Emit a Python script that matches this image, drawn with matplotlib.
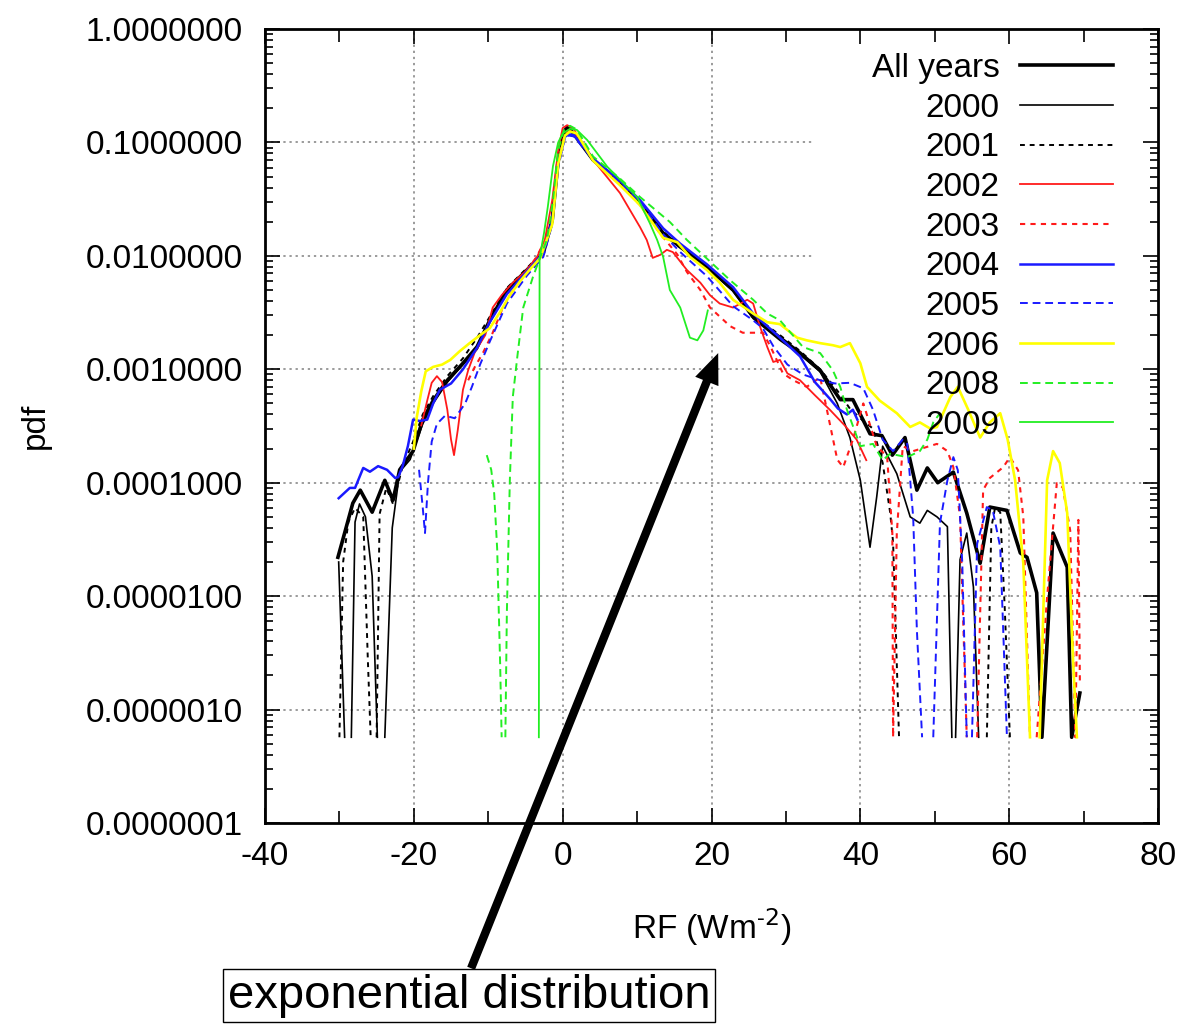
import numpy as np
import matplotlib
matplotlib.use("Agg")
import matplotlib.pyplot as plt
from matplotlib.ticker import LogLocator, MultipleLocator, NullFormatter, FormatStrFormatter

plt.rcParams['font.family'] = ['Liberation Sans', 'DejaVu Sans']
plt.rcParams['axes.unicode_minus'] = False

nan = np.nan

# pdf of RF (W m-2)
all_x = [-30.2, -29.3, -28.2, -27.2, -25.6, -23.9, -22.8, -21.9, -20.1, -18.8, -17.4, -15.5, -13.4, -11.5, -9.8,
         -7.5, -4.8, -2.6, -1.4, -0.6, 0.3, 0.7, 1.4, 4.1, 7.7, 10.4, 13.5, 15.8, 19.4, 22.9, 25.6, 29.2, 31.9,
         34.6, 37.3, 39.0, 41.3, 42.9, 44.3, 46.0, 47.6, 49.0, 50.4, 52.5, 54.3, 56.1, 57.4, 59.7, 61.5, 62.4,
         63.7, 64.4, 65.9, 67.8, 68.4, 69.5]
all_y = [2.2e-5, 3.6e-5, 6.6e-5, 8.6e-5, 5.5e-5, 1.05e-4, 7.0e-5, 1.3e-4, 1.9e-4, 3.6e-4, 5.3e-4, 8.0e-4, 1.13e-3,
         1.58e-3, 2.7e-3, 5.0e-3, 7.5e-3, 1.06e-2, 2.07e-2, 7.0e-2, 0.128, 0.137, 0.121, 0.070, 0.0438, 0.0292,
         0.0159, 0.0120, 0.0080, 0.0050, 0.0029, 0.0019, 0.00139, 9.8e-4, 5.4e-4, 5.4e-4, 2.7e-4, 2.6e-4, 1.75e-4,
         2.5e-4, 8.6e-5, 1.35e-4, 1.0e-4, 1.24e-4, 5.4e-5, 1.95e-5, 6.1e-5, 5.7e-5, 2.4e-5, 2.2e-5, 1.07e-5,
         5.7e-7, 3.6e-5, 1.8e-5, 5.7e-7, 1.4e-6]

x00 = [-30.1, -29.3, nan, -28.4, -27.9, -27.3, -26.5, -25.6, -24.9, nan, -23.9, -22.9, -21.9, -20.5, -18.8, -17.4,
       -15.5, -13.4, -11.5, -9.8, -7.5, -4.8, -2.6, -1.4, -0.6, 0.3, 0.8, 1.5, 4.1, 7.7, 10.4, 13.5, 15.8, 19.4,
       22.9, 25.6, 29.2, 31.9, 34.6, 36.9, 38.6, 40.0, 41.3, 42.2, 43.0, 44.9, 46.7, 48.0, 49.0, 50.3, 51.7, 52.3,
       nan, 52.8, 53.4, 54.3, 55.2, 55.9]
y00 = [2.0e-5, 5.7e-7, nan, 5.7e-7, 4.5e-5, 6.5e-5, 5.0e-5, 1.5e-5, 5.7e-7, nan, 5.7e-7, 4.0e-5, 1.25e-4, 1.6e-4,
       3.3e-4, 5.0e-4, 7.7e-4, 1.1e-3, 1.5e-3, 2.6e-3, 4.8e-3, 7.3e-3, 0.0104, 0.021, 0.072, 0.130, 0.133, 0.120,
       0.069, 0.043, 0.029, 0.0157, 0.0118, 0.0079, 0.0049, 0.0028, 0.0018, 0.00135, 9.5e-4, 5.0e-4, 2.5e-4,
       1.05e-4, 2.7e-5, 7.5e-5, 2.1e-4, 1.2e-4, 5.0e-5, 4.4e-5, 5.7e-5, 5.0e-5, 4.1e-5, 5.7e-7, nan, 5.7e-7,
       2.1e-5, 3.6e-5, 1.2e-5, 5.7e-7]

x01 = [-30.0, -29.5, -28.8, -27.9, -26.8, -26.2, -25.8, nan, -25.0, -24.6, -23.7, -22.8, -21.5, -20.1, -18.8,
       -17.4, -15.5, -13.4, -11.5, -9.8, -7.5, -4.8, -2.6, -1.4, -0.6, 0.3, 0.7, 1.5, 4.1, 7.7, 10.4, 13.5, 15.8,
       19.4, 22.9, 25.6, 29.2, 31.9, 34.6, 36.9, 38.6, 40.4, 41.7, 43.0, 44.0, 44.4, 45.2, nan, 57.0, 57.6, 58.1,
       58.8, 59.4, 60.1]
y01 = [5.7e-7, 2.0e-5, 4.5e-5, 6.0e-5, 5.0e-5, 3.0e-6, 5.7e-7, nan, 5.7e-7, 5.3e-5, 9.0e-5, 6.5e-5, 1.4e-4, 2.3e-4,
       4.0e-4, 5.8e-4, 8.7e-4, 1.25e-3, 1.9e-3, 2.9e-3, 5.2e-3, 7.8e-3, 0.011, 0.022, 0.070, 0.127, 0.135, 0.120,
       0.071, 0.045, 0.030, 0.0163, 0.0124, 0.0082, 0.0051, 0.0030, 0.0020, 0.00145, 1.0e-3, 6.5e-4, 4.5e-4,
       3.5e-4, 3.0e-4, 1.5e-4, 5.5e-5, 3.0e-5, 5.7e-7, nan, 5.7e-7, 4.0e-5, 6.0e-5, 5.5e-5, 8.0e-6, 5.7e-7]

x02 = [-19.0, -18.2, -17.6, -16.9, -16.2, -15.5, -15.0, -14.6, -14.1, -13.4, -12.7, -11.8, -10.4, -9.4, -8.2, -6.7,
       -5.1, -3.5, -2.4, -1.4, -0.6, 0.0, 0.6, 1.4, 4.1, 7.7, 10.4, 11.3, 12.1, 13.1, 14.0, 14.8, 16.7, 18.5, 19.8,
       21.1, 22.9, 24.8, 25.6, 26.5, 27.5, 28.3, 29.2, 30.2, 31.9, 33.9, 35.9, 37.9, 39.5, 40.8]
y02 = [3.2e-4, 5.3e-4, 7.6e-4, 8.7e-4, 7.7e-4, 4.4e-4, 2.4e-4, 1.75e-4, 2.9e-4, 6.6e-4, 9.8e-4, 1.42e-3, 2.0e-3,
       3.5e-3, 4.5e-3, 5.8e-3, 7.2e-3, 9.6e-3, 0.0138, 0.031, 0.086, 0.134, 0.142, 0.134, 0.070, 0.0358, 0.0179,
       0.0138, 0.0096, 0.0102, 0.0113, 0.0108, 0.0075, 0.0058, 0.0045, 0.0038, 0.0035, 0.0041, 0.0038, 0.0024,
       0.00157, 0.00116, 0.00121, 0.00092, 0.0008, 0.00059, 0.00044, 0.00032, 0.00024, 0.000158]

x03 = [-12.7, -11.8, -10.7, -9.4, -8.2, -6.7, -5.1, -3.5, -2.4, -1.4, -0.6, 0.3, 0.8, 1.5, 4.1, 7.7, 10.4, 13.0,
       15.4, 16.7, 18.5, 19.8, 22.5, 24.2, 26.9, 27.9, 29.6, 31.0, 32.8, 34.6, 36.9, 37.7, 39.0, 40.4, 42.2, 43.6,
       44.3, 44.4, 44.9, 45.7, 47.1, 50.3, 51.7, 52.5, 53.4, 54.3, nan, 55.7, 56.5, 57.4, 59.2, 60.1, 61.2, 61.9,
       62.8, nan, 63.7, 65.1, 66.4, 67.2, 68.2, 68.9, 69.3, 69.5]
y03 = [8.0e-4, 1.05e-3, 1.4e-3, 2.1e-3, 3.3e-3, 5.0e-3, 7.0e-3, 9.8e-3, 0.0135, 0.020, 0.070, 0.120, 0.128, 0.124,
       0.072, 0.043, 0.028, 0.016, 0.0103, 0.0072, 0.0050, 0.0035, 0.0024, 0.0021, 0.0021, 0.0016, 0.00092,
       0.0008, 0.0007, 8.5e-4, 1.6e-4, 1.37e-4, 2.4e-4, 5.0e-4, 2.1e-4, 1.7e-4, 3.6e-5, 5.7e-7, 3.6e-5, 2.1e-4,
       1.9e-4, 2.2e-4, 1.9e-4, 1.37e-4, 5.0e-5, 5.7e-7, nan, 5.7e-7, 8.6e-5, 1.1e-4, 1.37e-4, 1.68e-4, 1.29e-4,
       5.0e-5, 5.7e-7, nan, 5.7e-7, 9.8e-6, 9.9e-5, 9.1e-5, 3.8e-5, 5.7e-7, 4.7e-5, 1.8e-6]

x04 = [-30.1, -28.6, -27.9, -26.8, -25.9, -24.8, -23.6, -22.5, -22.1, -21.5, -20.8, -20.1, -19.2, -18.2, -17.4,
       -16.5, -15.0, -13.4, -11.5, -9.8, -7.5, -4.8, -2.6, -1.4, -0.6, 0.3, 0.8, 1.5, 4.1, 7.7, 10.4, 13.5, 15.8,
       19.4, 22.9, 25.6, 29.2, 31.9, 33.9, 35.9, 37.0, 38.2, 39.0, 39.6]
y04 = [7.3e-5, 9.0e-5, 9.0e-5, 1.35e-4, 1.25e-4, 1.4e-4, 1.3e-4, 1.1e-4, 1.12e-4, 1.4e-4, 2.1e-4, 3.6e-4, 3.5e-4,
       3.6e-4, 5.0e-4, 6.6e-4, 7.5e-4, 1.0e-3, 1.55e-3, 2.6e-3, 4.6e-3, 7.3e-3, 0.0106, 0.021, 0.065, 0.112,
       0.118, 0.116, 0.072, 0.046, 0.031, 0.0175, 0.0128, 0.0084, 0.0053, 0.0031, 0.0019, 0.0013, 7.7e-4, 5.5e-4,
       4.5e-4, 4.0e-4, 4.4e-4, 3.6e-4]

x05 = [-19.3, -18.8, -18.5, -18.1, -17.6, -16.9, -15.8, -14.5, -13.1, -12.2, -11.1, -9.8, -7.5, -4.8, -2.6, -1.4,
       -0.6, 0.3, 0.8, 1.5, 4.1, 7.7, 10.4, 13.5, 15.8, 19.4, 22.9, 25.6, 26.9, 28.3, 30.2, 32.3, 34.6, 36.6, 38.6,
       40.4, 41.7, 43.0, 44.4, 45.7, 46.3, 47.1, 47.6, 48.3, nan, 49.8, 50.7, 51.7, 52.5, 53.1, 53.7, 54.3, nan,
       55.0, 55.7, 57.0, 57.8, 58.8, 59.2, 59.7]
y05 = [1.3e-4, 6.0e-5, 3.6e-5, 1.0e-4, 2.3e-4, 3.3e-4, 3.9e-4, 3.7e-4, 5.0e-4, 7.0e-4, 1.1e-3, 1.75e-3, 3.8e-3,
       6.7e-3, 0.0098, 0.019, 0.060, 0.110, 0.115, 0.113, 0.070, 0.044, 0.030, 0.0155, 0.0108, 0.0066, 0.0036,
       0.0027, 0.0023, 0.0016, 0.0011, 0.0009, 0.0008, 7.5e-4, 7.6e-4, 6.8e-4, 4.4e-4, 2.4e-4, 1.9e-4, 2.4e-4,
       2.2e-4, 5.0e-5, 5.0e-6, 5.7e-7, nan, 5.7e-7, 4.4e-5, 1.05e-4, 1.68e-4, 1.29e-4, 1.95e-5, 5.7e-7, nan,
       5.7e-7, 2.9e-5, 6.1e-5, 5.7e-5, 2.7e-5, 5.0e-6, 5.7e-7]

x06 = [-20.0, -19.6, -19.0, -18.4, -17.4, -16.2, -15.1, -13.8, -12.5, -11.1, -9.8, -8.4, -7.1, -5.7, -4.4, -3.0,
       -1.4, -0.6, 0.3, 1.0, 1.9, 4.1, 7.7, 10.4, 13.5, 15.4, 17.1, 19.4, 21.1, 22.9, 25.6, 27.5, 29.2, 31.5, 32.8,
       34.6, 36.3, 37.3, 38.6, 40.0, 40.9, 42.6, 44.9, 46.7, 48.0, 49.4, 50.3, 52.1, 53.1, 54.5, 56.1, 57.4, 58.8,
       59.8, 60.8, 61.9, 62.8, nan, 64.1, 65.1, 65.9, 66.8, 67.8, 68.6, 69.1]
y06 = [2.0e-4, 3.8e-4, 6.4e-4, 9.6e-4, 1.05e-3, 1.1e-3, 1.21e-3, 1.45e-3, 1.7e-3, 2.0e-3, 2.3e-3, 3.2e-3, 4.5e-3,
       6.0e-3, 7.6e-3, 9.6e-3, 0.019, 0.065, 0.115, 0.125, 0.120, 0.069, 0.042, 0.028, 0.0144, 0.0132, 0.0098,
       0.0075, 0.0058, 0.0041, 0.0031, 0.0026, 0.0025, 0.0019, 0.0018, 0.0017, 0.00163, 0.00157, 0.0017, 0.00113,
       7.0e-4, 5.3e-4, 4.1e-4, 3.1e-4, 3.4e-4, 3.0e-4, 3.1e-4, 5.7e-4, 7.0e-4, 4.4e-4, 2.5e-4, 3.4e-4, 4.1e-4,
       2.4e-4, 1.05e-4, 1.95e-5, 5.7e-7, nan, 5.7e-7, 1.05e-4, 1.9e-4, 1.49e-4, 5.4e-5, 2.6e-6, 5.7e-7]

x08 = [-10.2, -9.6, -9.2, -8.8, -8.4, -8.2, nan, -7.7, -7.5, -7.1, -6.7, -6.1, -5.3, -4.0, -3.0, -2.1, -1.3, -0.6,
       0.2, 1.0, 1.9, 4.1, 7.7, 10.4, 14.4, 16.7, 22.5, 25.6, 27.5, 29.2, 32.3, 34.6, 36.3, 37.3, 38.2, 40.0, 41.7,
       43.0, 44.0, 46.3, 48.0, 49.0, 49.8, 50.7]
y08 = [1.75e-4, 1.3e-4, 8.0e-5, 2.6e-5, 2.5e-6, 5.7e-7, nan, 5.7e-7, 7.1e-6, 1.05e-4, 5.7e-4, 1.28e-3, 3.5e-3,
       6.5e-3, 9.8e-3, 0.014, 0.031, 0.086, 0.130, 0.140, 0.130, 0.075, 0.048, 0.033, 0.0199, 0.0138, 0.0061,
       0.0041, 0.0031, 0.0027, 0.00157, 0.00139, 9.8e-4, 7.0e-4, 4.4e-4, 2.1e-4, 2.2e-4, 1.58e-4, 1.8e-4, 1.68e-4,
       1.9e-4, 2.4e-4, 3.4e-4, 4.1e-4]

x09 = [-3.2, -3.1, -2.5, -2.0, -1.3, -0.6, 0.0, 1.0, 1.9, 3.3, 6.0, 8.7, 10.0, 11.7, 12.7, 13.5, 14.4, 15.8, 17.1,
       18.1, 18.9, 19.5]
y09 = [5.7e-7, 0.0096, 0.016, 0.027, 0.062, 0.10, 0.12, 0.132, 0.129, 0.105, 0.061, 0.0404, 0.033, 0.0195, 0.0138,
       0.0098, 0.0050, 0.0035, 0.0019, 0.0018, 0.0022, 0.0033]

labels = ["All years", "2000", "2001", "2002", "2003", "2004", "2005", "2006", "2008", "2009"]
xs = [all_x, x00, x01, x02, x03, x04, x05, x06, x08, x09]
ys = [all_y, y00, y01, y02, y03, y04, y05, y06, y08, y09]

red, blue, yellow, green = "#ff1a1a", "#1a1aff", "#ffff00", "#22ee22"
dots = (0, (2.5, 2.5))
dash = (0, (4, 2.5))
styles = [("black", 2.6, "-"), ("black", 1.2, "-"), ("black", 1.4, dots),
          (red, 1.3, "-"), (red, 1.5, dots), (blue, 1.8, "-"), (blue, 1.4, dash),
          (yellow, 1.9, "-"), (green, 1.4, dash), (green, 1.3, "-")]

fig = plt.figure(figsize=(11.84, 10.31), dpi=100)
ax = fig.add_axes([265/1184, 1 - 823/1031, (1158 - 265)/1184, (823 - 29)/1031])
ax.set_yscale("log")
ax.set_xlim(-40, 80)
ax.set_ylim(1e-7, 1)

# dotted grid, left out where the key sits
gkw = dict(colors="#808080", linewidths=1.1, linestyles=(0, (1.5, 2.5)), zorder=0.5)
ax.hlines([1e-1, 1e-2, 1e-3], -40, 33.5, **gkw)
ax.hlines([1e-4, 1e-5, 1e-6], -40, 80, **gkw)
ax.vlines([-20, 0, 20], 1e-7, 1, **gkw)
ax.vlines([40, 60], 1e-7, 2.6e-4, **gkw)

for i, (lab, x, y) in enumerate(zip(labels, xs, ys)):
    c, lw, ls = styles[i]
    ax.plot(x, y, color=c, lw=lw, ls=ls, label=lab, zorder=2 + i * 0.1)

ax.xaxis.set_major_locator(MultipleLocator(20))
ax.xaxis.set_minor_locator(MultipleLocator(10))
ax.yaxis.set_major_locator(LogLocator(base=10, numticks=20))
ax.yaxis.set_minor_locator(LogLocator(base=10, subs=np.arange(2, 10), numticks=100))
ax.yaxis.set_minor_formatter(NullFormatter())
ax.yaxis.set_major_formatter(FormatStrFormatter("%.7f"))

ax.tick_params(which="both", direction="in", top=True, right=True, width=1.2, labelsize=24)
ax.tick_params(which="major", length=11)
ax.tick_params(which="minor", length=6)
ax.tick_params(axis="x", which="minor", length=9)
ax.tick_params(axis="x", pad=13)
ax.tick_params(axis="y", pad=16)
for s in ax.spines.values():
    s.set_linewidth(2)

ax.set_xlabel("RF (Wm$^{\\mathregular{\u2010}2}$)", fontsize=24)
ax.xaxis.set_label_coords(0.5, -0.105)
ax.set_ylabel("pdf", fontsize=24)
ax.yaxis.set_label_coords(-0.24, 0.5)

ax.legend(loc="upper right", bbox_to_anchor=(1113/1184, 1 - 53/1031), bbox_transform=fig.transFigure,
          frameon=False, markerfirst=False, fontsize=24, handlelength=2.8, handletextpad=0.6,
          labelspacing=0.26, borderpad=0, borderaxespad=0)

ax.annotate("exponential distribution", xy=(20.9, 1.39e-3), xycoords="data",
            xytext=(469/1184, 1 - 995.5/1031), textcoords="figure fraction",
            ha="center", va="center", fontsize=34, annotation_clip=False,
            bbox=dict(boxstyle="square,pad=0.1", fc="white", ec="black", lw=1),
            arrowprops=dict(arrowstyle="simple,head_length=2.2,head_width=1.8,tail_width=0.6",
                            mutation_scale=10, fc="black", ec="black", lw=0,
                            relpos=(0.5, 1.0), shrinkA=0, shrinkB=0))

fig.savefig("out.png", dpi=100)
